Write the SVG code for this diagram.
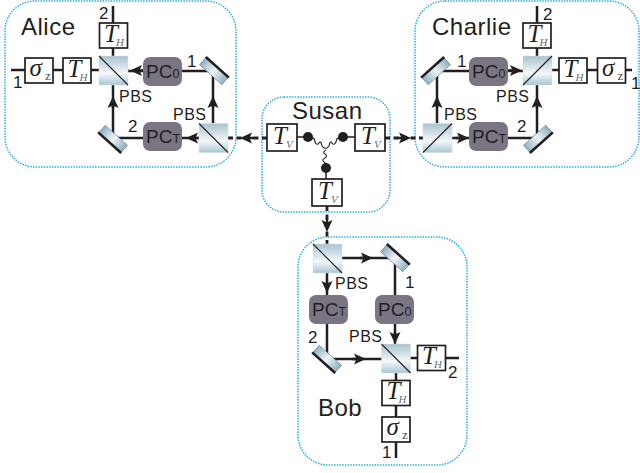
<svg xmlns="http://www.w3.org/2000/svg" xmlns:xlink="http://www.w3.org/1999/xlink" width="640" height="473" viewBox="0 0 640 473">
<style>
text{font-family:"Liberation Sans",Arial,sans-serif;fill:#231f20}
.frame{fill:#fff;stroke:#29abe2;stroke-width:1.5;stroke-dasharray:1.5 1.2}
.line{fill:none;stroke:#231f20;stroke-width:2.5}
.dash{fill:none;stroke:#231f20;stroke-width:2.8;stroke-dasharray:5 3.5}
.wavy{fill:none;stroke:#231f20;stroke-width:1.1}
.stub{fill:none;stroke:#555;stroke-width:2}
.box{fill:#fff;stroke:#231f20;stroke-width:1.7}
.pc{fill:#7b7583}
.pct{font-size:19px}
.pcs{font-size:12.5px}
.name{font-size:24px;letter-spacing:.5px}
.lab{font-size:17px}
.pbsl{font-size:16px;letter-spacing:.5px}
.T{font-family:"Liberation Serif",serif;font-style:italic;font-size:25px}
.sub{font-family:"Liberation Serif",serif;font-style:italic;font-size:11px;fill:#6d6e71}
.sig{font-family:"Liberation Serif",serif;font-style:italic;font-size:25px}
.z{font-family:"Liberation Serif",serif;font-size:13px;fill:#4d4d4f}
.pbsbox{stroke:#d5dde2;stroke-width:.5}
.diag{stroke:#231f20;stroke-width:1.1}
.mirb{stroke:#231f20;stroke-width:2.6}
</style>
<defs>
<linearGradient id="g" x1="0" y1="0" x2="0" y2="1"><stop offset="0" stop-color="#a9c2d0"/><stop offset=".6" stop-color="#f4f8fa"/><stop offset="1" stop-color="#a9c6d4"/></linearGradient>
<linearGradient id="m" x1="0" y1="0" x2="1" y2="0"><stop offset="0" stop-color="#8fb0c2"/><stop offset=".5" stop-color="#eef4f7"/><stop offset="1" stop-color="#8fb0c2"/></linearGradient>
<marker id="a" markerUnits="userSpaceOnUse" markerWidth="13" markerHeight="12" refX="6" refY="6" orient="auto"><path d="M0 .5L12 6L0 11.500L2.500 6Z" fill="#231f20"/></marker>
<g id="pb"><rect class="pbsbox" x="-14.5" y="-14.5" width="29" height="29" fill="url(#g)"/><path class="diag" d="M-14.5 -14.5L14.5 14.5"/></g>
<g id="pf"><rect class="pbsbox" x="-14.5" y="-14.5" width="29" height="29" fill="url(#g)"/><path class="diag" d="M-14.5 14.5L14.5 -14.5"/></g>
<g id="mir"><rect x="-15" y="-5" width="30" height="10" fill="url(#m)" stroke="#55606a" stroke-width=".5"/><path class="mirb" d="M-15.500 -5H15.500"/></g>
<g id="pcb"><rect class="pc" x="0" y="0" width="39" height="29" rx="7"/></g>
<g id="bh"><rect class="box" x="0" y="0" width="28" height="25"/><text class="T" x="4.500" y="18.500">T</text><text class="sub" x="16.500" y="22.500">H</text></g>
<g id="bv"><rect class="box" x="0" y="0" width="30" height="27"/><text class="T" x="6" y="20">T</text><text class="sub" x="19" y="24">V</text></g>
<g id="bs"><rect class="box" x="0" y="0" width="28" height="25"/><text class="sig" x="4.500" y="18">σ</text><text class="z" x="20" y="22">z</text></g>
</defs>

<g id="frames">
<rect id="alice-frame" class="frame" x="5" y="1" width="231" height="166" rx="30"/>
<rect id="charlie-frame" class="frame" x="415" y="1" width="224" height="166" rx="30"/>
<rect id="bob-frame" class="frame" x="298" y="237" width="169" height="228" rx="30"/>
<rect id="susan-frame" class="frame" x="262" y="97" width="128" height="115" rx="22"/>
</g>

<g id="connectors">
<path class="line" d="M11 70H99M113 6V56"/>
<path class="line" d="M214 71H128"/>
<path class="line" d="M213 123V71M113 138V85M199 138H113"/>
<path class="line" d="M143 70.500H136" marker-end="url(#a)"/>
<path class="line" d="M199 138H192" marker-end="url(#a)"/>
<path class="line" d="M113 108V102" marker-end="url(#a)"/>
<path class="line" d="M213 108V102" marker-end="url(#a)"/>
<path class="line" d="M437 71H523M437 123V71M452 138H537V85M537 56V6M552 70H632"/>
<path class="line" d="M508 70.500H516" marker-end="url(#a)"/>
<path class="line" d="M456 138H463" marker-end="url(#a)"/>
<path class="line" d="M437 108V102" marker-end="url(#a)"/>
<path class="line" d="M537 108V102" marker-end="url(#a)"/>
<path class="line" d="M327 273V359H382M342 258H395V344M396 373V458M410 358H459"/>
<path class="line" d="M327 281V287" marker-end="url(#a)"/>
<path class="line" d="M395 332V338" marker-end="url(#a)"/>
<path class="line" d="M360 258H367" marker-end="url(#a)"/>
<path class="line" d="M352 359H360" marker-end="url(#a)"/>
<path class="dash" d="M267 138H228"/>
<path class="line" d="M254 138H246" marker-end="url(#a)"/>
<path class="dash" d="M385 138H423"/>
<path class="line" d="M397 138H405" marker-end="url(#a)"/>
<path class="dash" d="M327 206V244"/>
<path class="line" d="M327 218V226" marker-end="url(#a)"/>
<path class="stub" d="M297 137H308M343 137H355M326 168V179"/>
<path class="wavy" d="M308 137q2 5 4 2t3 3q2 4 4 1t3 3q2 3 4 2M343 137q-2 5 -4 2t-3 3q-2 4 -4 1t-3 3q-2 3 -4 2M326 150q-4 2 -1 4t0 4q-4 2 -1 4t1 3q-2 2 1 3"/>
<circle cx="308" cy="137" r="5" fill="#231f20"/>
<circle cx="343" cy="137" r="5" fill="#231f20"/>
<circle cx="326" cy="168" r="5" fill="#231f20"/>
</g>

<g id="alice">
<text class="name" x="21" y="35">Alice</text>
<use xlink:href="#bs" href="#bs" x="25" y="58"/>
<use xlink:href="#bh" href="#bh" x="63" y="58"/>
<use xlink:href="#bh" href="#bh" x="99.500" y="23"/>
<use xlink:href="#pb" href="#pb" x="113.500" y="70.500"/>
<use xlink:href="#pb" href="#pb" x="213.500" y="138"/>
<use xlink:href="#pcb" href="#pcb" x="143" y="57"/>
<text class="pct" x="146" y="78">PC<tspan class="pcs">0</tspan></text>
<use xlink:href="#pcb" href="#pcb" x="143" y="122"/>
<text class="pct" x="146" y="143">PC<tspan class="pcs">T</tspan></text>
<use xlink:href="#mir" href="#mir" transform="translate(214 71) rotate(42)"/>
<use xlink:href="#mir" href="#mir" transform="translate(113 139) rotate(222)"/>
<text class="lab" x="13" y="88">1</text>
<text class="lab" x="99" y="19">2</text>
<text class="lab" x="187" y="67">1</text>
<text class="lab" x="128" y="132">2</text>
<text class="pbsl" x="119" y="102">PBS</text>
<text class="pbsl" x="173" y="120">PBS</text>
</g>

<g id="charlie">
<text class="name" x="432" y="35">Charlie</text>
<use xlink:href="#bs" href="#bs" x="597.500" y="58"/>
<use xlink:href="#bh" href="#bh" x="559" y="58"/>
<use xlink:href="#bh" href="#bh" x="523" y="23"/>
<use xlink:href="#pf" href="#pf" x="537.500" y="70.500"/>
<use xlink:href="#pf" href="#pf" x="437.500" y="138"/>
<use xlink:href="#pcb" href="#pcb" x="469" y="57"/>
<text class="pct" x="472" y="78">PC<tspan class="pcs">0</tspan></text>
<use xlink:href="#pcb" href="#pcb" x="469" y="122"/>
<text class="pct" x="472" y="143">PC<tspan class="pcs">T</tspan></text>
<use xlink:href="#mir" href="#mir" transform="translate(436 71) rotate(-42)"/>
<use xlink:href="#mir" href="#mir" transform="translate(538 139) rotate(138)"/>
<text class="lab" x="457" y="67">1</text>
<text class="lab" x="517" y="132">2</text>
<text class="lab" x="543" y="20">2</text>
<text class="lab" x="631" y="89">1</text>
<text class="pbsl" x="496" y="102">PBS</text>
<text class="pbsl" x="444" y="120">PBS</text>
</g>

<g id="susan">
<text class="name" x="292" y="119">Susan</text>
<use xlink:href="#bv" href="#bv" x="267" y="124"/>
<use xlink:href="#bv" href="#bv" x="355" y="124"/>
<use xlink:href="#bv" href="#bv" x="312" y="179"/>
</g>

<g id="bob">
<text class="name" x="318" y="416">Bob</text>
<use xlink:href="#pb" href="#pb" x="327.500" y="258.500"/>
<use xlink:href="#pb" href="#pb" x="396" y="358.500"/>
<use xlink:href="#pcb" href="#pcb" x="309" y="295"/>
<text class="pct" x="312" y="316">PC<tspan class="pcs">T</tspan></text>
<use xlink:href="#pcb" href="#pcb" x="375" y="295"/>
<text class="pct" x="378" y="316">PC<tspan class="pcs">0</tspan></text>
<use xlink:href="#bh" href="#bh" x="417.500" y="345.500"/>
<use xlink:href="#bh" href="#bh" x="382" y="380.500"/>
<use xlink:href="#bs" href="#bs" x="382" y="417"/>
<use xlink:href="#mir" href="#mir" transform="translate(395 258) rotate(42)"/>
<use xlink:href="#mir" href="#mir" transform="translate(327 359) rotate(222)"/>
<text class="lab" x="405" y="288">1</text>
<text class="lab" x="308" y="343">2</text>
<text class="lab" x="448" y="378">2</text>
<text class="lab" x="382" y="458">1</text>
<text class="pbsl" x="335" y="289">PBS</text>
<text class="pbsl" x="349" y="342">PBS</text>
</g>
</svg>
